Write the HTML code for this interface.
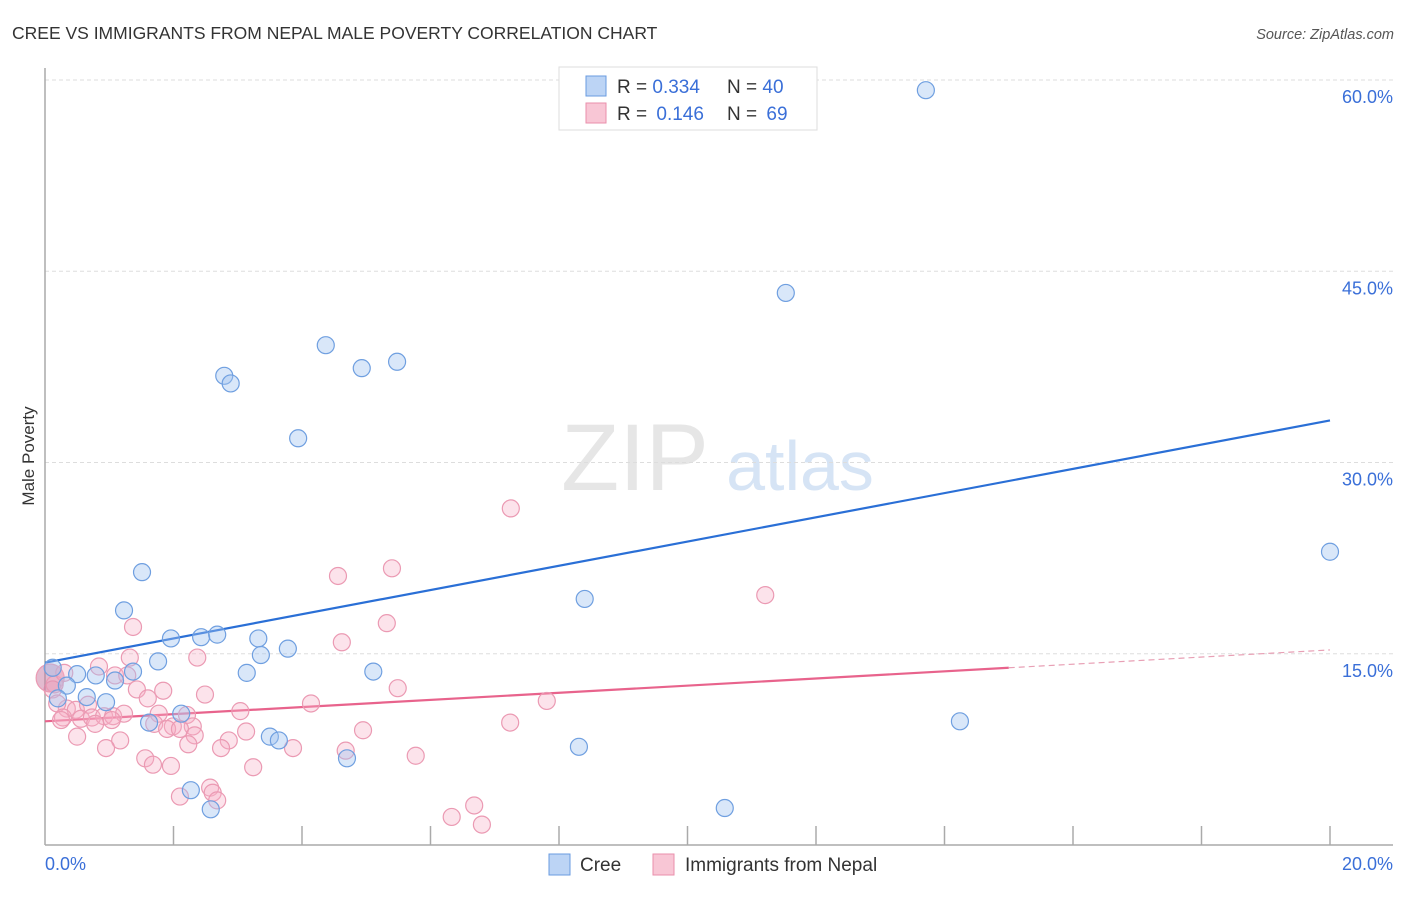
<!DOCTYPE html>
<html><head><meta charset="utf-8"><style>
body{margin:0;background:#fff;font-family:"Liberation Sans",sans-serif;}
svg text{font-family:"Liberation Sans",sans-serif;}
</style></head><body>
<svg id="chart" width="1406" height="892" viewBox="0 0 1406 892">
<text x="12" y="39" font-size="17.5" fill="#333">CREE VS IMMIGRANTS FROM NEPAL MALE POVERTY CORRELATION CHART</text>
<text x="1394" y="39" font-size="14.5" fill="#555" font-style="italic" text-anchor="end">Source: ZipAtlas.com</text>
<text x="635" y="490" font-size="95" fill="#e6e6e6" font-family="Liberation Serif,serif" text-anchor="middle">ZIP</text>
<text x="800" y="490" font-size="70" fill="#d6e4f5" text-anchor="middle">atlas</text>
<g id="grid"></g>
<g id="axes"></g>
<text transform="translate(34,456) rotate(-90)" font-size="17" fill="#333" text-anchor="middle">Male Poverty</text>
<g id="lines"></g>
<g id="pts"></g>
<g>
<rect x="559" y="67" width="258" height="63" fill="#fff" stroke="#ddd"/>
<rect x="586" y="76" width="20" height="20" fill="#bcd4f5" stroke="#6a9be0"/>
<rect x="586" y="103" width="20" height="20" fill="#f8c6d5" stroke="#ea8fab"/>
<text x="617" y="93" font-size="19" fill="#333">R = <tspan fill="#3a6fd8">0.334</tspan></text>
<text x="727" y="93" font-size="19" fill="#333">N = <tspan fill="#3a6fd8">40</tspan></text>
<text x="617" y="120" font-size="19" fill="#333">R = <tspan fill="#3a6fd8" dx="4">0.146</tspan></text>
<text x="727" y="120" font-size="19" fill="#333">N = <tspan fill="#3a6fd8" dx="4">69</tspan></text>
</g>
<g>
<rect x="549" y="854" width="21" height="21" fill="#bcd4f5" stroke="#6a9be0"/>
<text x="580" y="871" font-size="19" fill="#333">Cree</text>
<rect x="653" y="854" width="21" height="21" fill="#f8c6d5" stroke="#ea8fab"/>
<text x="685" y="871" font-size="19" fill="#333">Immigrants from Nepal</text>
</g>
</svg>
<script>
const creeX=[13.71,11.53,4.37,5.48,4.93,2.79,2.89,3.94,1.51,20.0,8.40,1.23,1.96,2.43,2.68,3.32,3.36,3.78,1.76,0.12,0.50,0.79,1.37,1.09,3.14,5.11,0.34,0.20,0.65,0.95,2.12,1.62,14.24,3.50,3.64,8.31,4.70,2.27,2.58,10.58];
const creeY=[59.2,43.3,39.2,37.9,37.4,36.8,36.2,31.9,21.4,23.0,19.3,18.4,16.2,16.3,16.5,16.2,14.9,15.4,14.4,13.9,13.4,13.3,13.6,12.9,13.5,13.6,12.5,11.5,11.6,11.2,10.3,9.6,9.7,8.5,8.2,7.7,6.8,4.3,2.8,2.9];
const nepalX=[7.25,5.40,4.56,11.21,1.37,5.32,4.62,2.37,1.32,0.84,1.09,1.28,1.43,1.84,0.12,2.49,5.49,7.81,4.14,1.60,0.34,0.48,0.67,0.19,3.04,0.28,0.56,0.73,0.92,1.06,1.23,1.77,2.21,0.25,0.78,1.04,1.70,1.99,2.30,7.24,4.95,1.90,2.10,3.13,2.33,0.50,1.17,2.86,2.23,0.95,2.74,3.86,4.68,5.77,1.56,1.68,1.96,3.24,2.57,2.61,2.68,2.10,6.68,6.33,6.80,0.08,0.15,0.30];
const nepalY=[26.4,21.7,21.1,19.6,17.1,17.4,15.9,14.7,14.7,14.0,13.3,13.3,12.2,12.1,12.2,11.8,12.3,11.3,11.1,11.5,10.7,10.6,11.0,11.1,10.5,10.0,9.9,10.0,10.1,10.1,10.3,10.3,10.2,9.8,9.5,9.8,9.5,9.3,9.3,9.6,9.0,9.1,9.1,8.9,8.6,8.5,8.2,8.2,7.9,7.6,7.6,7.6,7.4,7.0,6.8,6.3,6.2,6.1,4.5,4.1,3.5,3.8,3.1,2.2,1.6,13.1,12.6,13.5];
const yTicks=[15,30,45,60];
const trendCree=[14.3,33.3];   // y at x=0 and x=20
const trendNepal=[9.7,15.3];   // y at x=0 and x=20 (solid until 15)
const NS="http://www.w3.org/2000/svg";
const sx=v=>45+v*64.25, sy=v=>845-v*12.75;
function mk(tag,attrs,parent){const e=document.createElementNS(NS,tag);for(const k in attrs)e.setAttribute(k,attrs[k]);document.getElementById(parent).appendChild(e);return e;}
yTicks.forEach(t=>{
  const l=mk('line',{x1:45,x2:1393,y1:sy(t),y2:sy(t),stroke:'#ddd','stroke-dasharray':'4,3'},'grid');
  
  
  const tx=mk('text',{x:1393,y:sy(t)+23,'font-size':18,fill:'#3a6fd8','text-anchor':'end'},'grid');
  tx.textContent=t.toFixed(1)+'%';
  
  
});
mk('line',{x1:45,x2:45,y1:68,y2:845,stroke:'#aaa','stroke-width':1.5},'axes');
mk('line',{x1:45,x2:1393,y1:845,y2:845,stroke:'#aaa','stroke-width':1.5},'axes');
for(let i=1;i<=10;i++){const t=mk('line',{x1:45+128.5*i,x2:45+128.5*i,y1:826,y2:845,stroke:'#aaa','stroke-width':1.5},'axes');
  
  }
const x0=mk('text',{x:45,y:870,'font-size':18,fill:'#3a6fd8'},'axes');x0.textContent='0.0%';


const x1=mk('text',{x:1393,y:870,'font-size':18,fill:'#3a6fd8','text-anchor':'end'},'axes');x1.textContent='20.0%';


// trend lines
const lc=mk('line',{x1:sx(0),y1:sy(trendCree[0]),x2:sx(20),y2:sy(trendCree[1]),stroke:'#2a6fd6','stroke-width':2.2},'lines');


const ny=x=>trendNepal[0]+(trendNepal[1]-trendNepal[0])*x/20;
const ln=mk('line',{x1:sx(0),y1:sy(ny(0)),x2:sx(15),y2:sy(ny(15)),stroke:'#e8638c','stroke-width':2.2},'lines');


const ld=mk('line',{x1:sx(15),y1:sy(ny(15)),x2:sx(20),y2:sy(ny(20)),stroke:'#e8a0b5','stroke-width':1.2,'stroke-dasharray':'6,4'},'lines');


nepalX.forEach((x,i)=>{const c=mk('circle',{cx:sx(x),cy:sy(nepalY[i]),r:i==65?14:8.5,fill:i==65?'rgba(200,120,160,0.5)':'rgba(246,175,198,0.35)',stroke:'#eb9ab3','stroke-width':1.2},'pts');
  
  });
creeX.forEach((x,i)=>{const c=mk('circle',{cx:sx(x),cy:sy(creeY[i]),r:8.5,fill:'rgba(160,195,240,0.4)',stroke:'#6f9fe0','stroke-width':1.2},'pts');
  
  });
</script>
</body></html>
